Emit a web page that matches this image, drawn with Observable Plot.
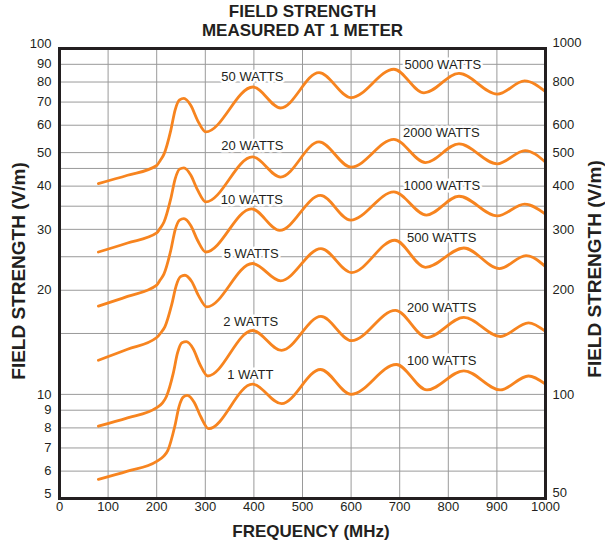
<!DOCTYPE html>
<html>
<head>
<meta charset="utf-8">
<script src="https://cdn.jsdelivr.net/npm/d3@7"></script>
<script src="https://cdn.jsdelivr.net/npm/@observablehq/plot@0.6"></script>
<style>
  html, body { margin: 0; padding: 0; background: #fff; }
  #wrap { position: relative; width: 605px; height: 545px; font-family: "Liberation Sans", Arial, sans-serif; color: #231f20; }
  #title { position: absolute; left: 0; top: 3px; width: 605px; text-align: center; font-weight: bold; font-size: 17px; line-height: 18.5px; }
  #chart { position: absolute; left: 0; top: 0; }
  .axlab { position: absolute; font-weight: bold; white-space: nowrap; line-height: 1; }
  .rot { transform: translate(-50%, -50%) rotate(-90deg); font-size: 19px; }
  .hor { transform: translate(-50%, -50%); font-size: 17px; }
</style>
</head>
<body>
<div id="wrap">
  <div id="chart"></div>
  <div id="title">FIELD STRENGTH<br>MEASURED AT 1 METER</div>
  <div class="axlab rot" style="left:18px; top:271px;">FIELD STRENGTH (V/m)</div>
  <div class="axlab rot" style="left:594px; top:269px;">FIELD STRENGTH (V/m)</div>
  <div class="axlab hor" style="left:311px; top:531px;">FREQUENCY (MHz)</div>
</div>
<script>
// Curve names (low power on left axis / high power on right axis)
const curveNames = ["50 W", "20 W", "10 W", "5 W", "2 W", "1 W"];

// Frequencies (MHz) and field strength (V/m, left scale)
const freq50 = [80,140,200,207,215,229,238,247,256,270,284,301,398,455,534,600,688,750,822,901,957,1000];
const field50 = [40.7,43.0,45.9,47.4,49.5,58,66.5,71,71.7,68.5,62,57.4,77.4,67.3,85.2,72.1,87.1,74.4,84.7,73.8,80.6,75.0];

const freq20 = [80,140,200,207,215,229,238,247,256,270,284,301,397,455,534,600,688,753,822,901,958,1000];
const field20 = [25.8,27.4,29.3,30.2,31.5,36.8,42.0,44.8,45.2,43.1,39.0,36.0,48.6,42.5,53.7,45.4,54.6,46.8,53.0,46.4,50.7,46.9];

const freq10 = [80,140,200,207,215,229,238,247,256,270,284,301,395,453,537,599,688,755,822,901,957,1000];
const field10 = [18.0,19.2,20.7,21.4,22.3,26.1,29.9,31.9,32.2,30.8,27.9,25.8,34.4,29.8,37.6,31.9,38.5,33.0,37.4,32.8,35.5,33.2];

const freq5 = [80,140,200,209,217,231,240,249,258,272,286,303,397,455,538,601,690,753,832,905,960,1000];
const field5 = [12.55,13.5,14.6,15.1,15.7,18.2,20.6,21.9,22.1,21.2,19.3,17.9,23.9,21.3,26.4,22.5,27.9,23.3,26.5,23.1,25.2,23.4];

const freq2 = [80,140,200,212,220,234,243,252,261,275,289,305,397,457,538,601,691,756,832,907,965,1000];
const field2 = [8.09,8.55,9.15,9.45,9.86,11.5,13.2,14.1,14.2,13.55,12.2,11.3,15.3,13.4,16.8,14.3,17.5,14.6,16.7,14.7,16.1,15.2];

const freq1 = [80,140,200,214,223,237,246,255,263,277,291,307,397,457,537,600,693,756,832,907,965,1000];
const field1 = [5.68,6.0,6.4,6.62,6.89,8.06,9.22,9.83,9.93,9.49,8.6,7.96,10.7,9.4,11.8,10.0,12.2,10.3,11.7,10.3,11.3,10.7];

// Curve labels: text and anchor in data units
const labelText = ["50 WATTS","20 WATTS","10 WATTS","5 WATTS","2 WATTS","1 WATT",
                   "5000 WATTS","2000 WATTS","1000 WATTS","500 WATTS","200 WATTS","100 WATTS"];
const labelFreq = [333,333,332,338,337,345, 710,707,708,715,715,715];
const labelField = [82.6,52.2,36.6,25.5,16.2,11.4, 89.5,57.0,40.2,28.4,17.8,12.5];

// Tick / grid values
const xTicks = [0,100,200,300,400,500,600,700,800,900,1000];
const xGrid = [100,200,300,400,500,600,700,800,900];
const yLeftTicks = [6,7,8,9,10,20,30,40,50,60,70,80,90];
const yRightTicks = [10,20,30,40,50,60,80];
const yEndTicks = [5,100];
const yGrid = [6,7,8,9,10,15,20,25,30,35,40,45,50,60,70,80,90];

const freqs = [freq50, freq20, freq10, freq5, freq2, freq1];
const fields = [field50, field20, field10, field5, field2, field1];
const data = [];
curveNames.forEach((name, i) => {
  freqs[i].forEach((f, j) => data.push({curve: name, f, v: fields[i][j]}));
});
const labels = labelText.map((t, i) => ({t, f: labelFreq[i], v: labelField[i]}));

const ink = "#231f20";
const chart = Plot.plot({
  width: 605,
  height: 545,
  marginTop: 48,
  marginLeft: 59,
  marginRight: 60,
  marginBottom: 47,
  style: {fontFamily: "'Liberation Sans', Arial, sans-serif", fontSize: "13px", color: ink, background: "white"},
  x: {domain: [0, 1000], axis: null},
  y: {type: "log", domain: [5, 100], axis: null},
  marks: [
    Plot.ruleX(xGrid, {x: d => d, stroke: "#9a9a9a", strokeWidth: 1}),
    Plot.ruleY(yGrid, {y: d => d, stroke: "#9a9a9a", strokeWidth: 1}),
    Plot.line(data, {x: "f", y: "v", z: "curve", stroke: "#f7841f", strokeWidth: 2.8, curve: "monotone-x"}),
    Plot.text(labels, {x: "f", y: "v", text: "t", textAnchor: "start", fontSize: 13, fill: ink, stroke: "white", strokeWidth: 5}),
    Plot.frame({stroke: ink, strokeWidth: 3}),
    // x tick labels
    Plot.text(xTicks, {x: d => d, frameAnchor: "bottom", dy: 12, text: d => String(d), fontSize: 13, fill: ink}),
    // left tick labels
    Plot.text(yLeftTicks, {y: d => d, frameAnchor: "left", dx: -8, textAnchor: "end", text: d => String(d), fontSize: 13, fill: ink}),
    Plot.text(yEndTicks, {y: d => d, frameAnchor: "left", dx: -8, dy: -5, textAnchor: "end", text: d => String(d), fontSize: 13, fill: ink}),
    // right tick labels (x10 scale)
    Plot.text(yRightTicks, {y: d => d, frameAnchor: "right", dx: 7, textAnchor: "start", text: d => String(d * 10), fontSize: 13, fill: ink}),
    Plot.text(yEndTicks, {y: d => d, frameAnchor: "right", dx: 7, dy: -6, textAnchor: "start", text: d => String(d * 10), fontSize: 13, fill: ink})
  ]
});
document.getElementById("chart").appendChild(chart);
</script>
</body>
</html>
